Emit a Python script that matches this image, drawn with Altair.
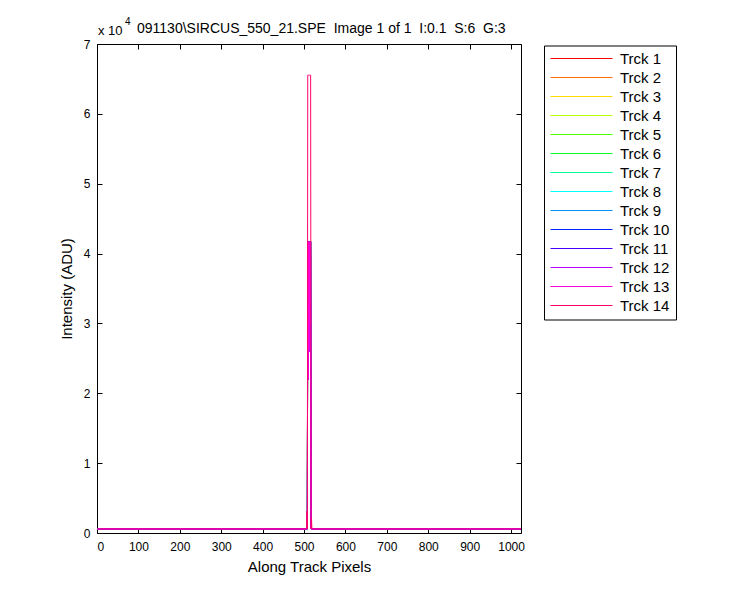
import altair as alt
import pandas as pd

# ---------------- data ----------------
track_names = ["Trck 1", "Trck 2", "Trck 3", "Trck 4", "Trck 5", "Trck 6", "Trck 7",
               "Trck 8", "Trck 9", "Trck 10", "Trck 11", "Trck 12", "Trck 13", "Trck 14"]
track_colors = ["#FF0000", "#FF6D00", "#FFDB00", "#B6FF00", "#49FF00", "#00FF24", "#00FF92",
                "#00FFFF", "#0092FF", "#0024FF", "#4900FF", "#B600FF", "#FF00DB", "#FF006D"]

# along-track pixel positions where the profiles are sampled
pixels = [1, 506, 507, 508, 509, 510, 511, 512, 513, 514, 515, 516, 517, 518, 519, 1024]
# tracks 1-13 (drawn underneath; only the lower, ~4.17e4 peak shows through)
intensity_lower = [580, 580, 580, 580, 41700, 22000, 41700, 26000, 41700, 30000, 41700, 41700,
                   580, 580, 580, 580]
# track 14 (top-most line, saturated peak)
intensity_trck14 = [580, 580, 3150, 580, 65535, 65535, 65535, 65535, 65535, 65535, 65535, 65535,
                    580, 2150, 580, 580]

x_ticks = [0, 100, 200, 300, 400, 500, 600, 700, 800, 900, 1000]
y_ticks = [0, 10000, 20000, 30000, 40000, 50000, 60000, 70000]

NB = "\u00a0"
title_text = ("091130\\SIRCUS_550_21.SPE" + NB + NB + "Image 1 of 1" + NB + NB + "I:0.1"
              + NB + NB + "S:6" + NB + NB + "G:3")

rows = []
for ti, name in enumerate(track_names):
    vals = intensity_trck14 if name == "Trck 14" else intensity_lower
    for p, v in zip(pixels, vals):
        rows.append({"track": name, "order": ti, "pixel": p, "adu": v})
df = pd.DataFrame(rows)

FONT = "Liberation Sans"
W, H = 424, 489

xs = alt.Scale(domain=[0, 1024], nice=False, zero=False)
ys = alt.Scale(domain=[0, 70000], nice=False)

# main lines + labelled axes (no ticks)
lines = alt.Chart(df).mark_line(strokeWidth=1, clip=True).encode(
    x=alt.X("pixel:Q", scale=xs,
            axis=alt.Axis(values=x_ticks, format="d", title="Along Track Pixels", ticks=False,
                          domain=False, grid=False, labelFont=FONT, labelFontSize=12,
                          labelColor="black", labelPadding=8, titleFont=FONT, titleFontSize=15,
                          titleFontWeight="normal", titleColor="black", titlePadding=7)),
    y=alt.Y("adu:Q", scale=ys,
            axis=alt.Axis(values=y_ticks, labelExpr="datum.value / 10000", title="Intensity (ADU)",
                          ticks=False, domain=False, grid=False, labelFont=FONT, labelFontSize=12,
                          labelColor="black", labelPadding=7, titleFont=FONT, titleFontSize=15,
                          titleFontWeight="normal", titleColor="black", titlePadding=9)),
    color=alt.Color("track:N", sort=track_names,
                    scale=alt.Scale(domain=track_names, range=track_colors),
                    legend=alt.Legend(title=None, orient="none", legendX=447, legendY=1.5,
                                      symbolType="stroke", symbolSize=3844, symbolStrokeWidth=1,
                                      symbolOpacity=1,
                                      labelFont=FONT, labelFontSize=15, labelColor="black",
                                      labelOffset=7, fillColor="white", strokeColor="black",
                                      padding=6, rowPadding=4, clipHeight=14)),
    detail="track:N",
    order="order:Q",
)

def tick_axis(x_orient, y_orient):
    return alt.Chart(df).mark_point(opacity=0).encode(
        x=alt.X("pixel:Q", scale=xs,
                axis=alt.Axis(values=x_ticks, orient=x_orient, offset=-H, labels=False,
                              title=None, domain=False, grid=False, tickSize=5,
                              tickColor="black", tickWidth=1)),
        y=alt.Y("adu:Q", scale=ys,
                axis=alt.Axis(values=y_ticks, orient=y_orient, offset=-W, labels=False,
                              title=None, domain=False, grid=False, tickSize=5,
                              tickColor="black", tickWidth=1)),
    )

ticks_a = tick_axis("top", "right")     # bottom & left edges, inward
ticks_b = tick_axis("bottom", "left")   # top & right edges, inward

txt_df = pd.DataFrame({"t": ["x 10"], "e": ["4"], "title": [title_text]})
exp_base = alt.Chart(txt_df).mark_text(font=FONT, fontSize=13, align="left",
                                       baseline="alphabetic", color="black").encode(
    text="t:N", x=alt.value(1), y=alt.value(-9))
exp_pow = alt.Chart(txt_df).mark_text(font=FONT, fontSize=10, align="left",
                                      baseline="alphabetic", color="black").encode(
    text="e:N", x=alt.value(28), y=alt.value(-19))
title_mark = alt.Chart(txt_df).mark_text(font=FONT, fontSize=14, align="left",
                                         baseline="alphabetic", color="black").encode(
    text="title:N", x=alt.value(40), y=alt.value(-11))

chart = alt.layer(lines, ticks_a, ticks_b, exp_base, exp_pow, title_mark).resolve_axis(
    x="independent", y="independent"
).properties(
    width=W, height=H,
    autosize="none",
    padding={"left": 89, "top": 36, "right": 220, "bottom": 60},
    background="white",
).configure_view(stroke="black", strokeWidth=1)

chart.save("out.html", embed_options={"renderer": "svg", "actions": False})
